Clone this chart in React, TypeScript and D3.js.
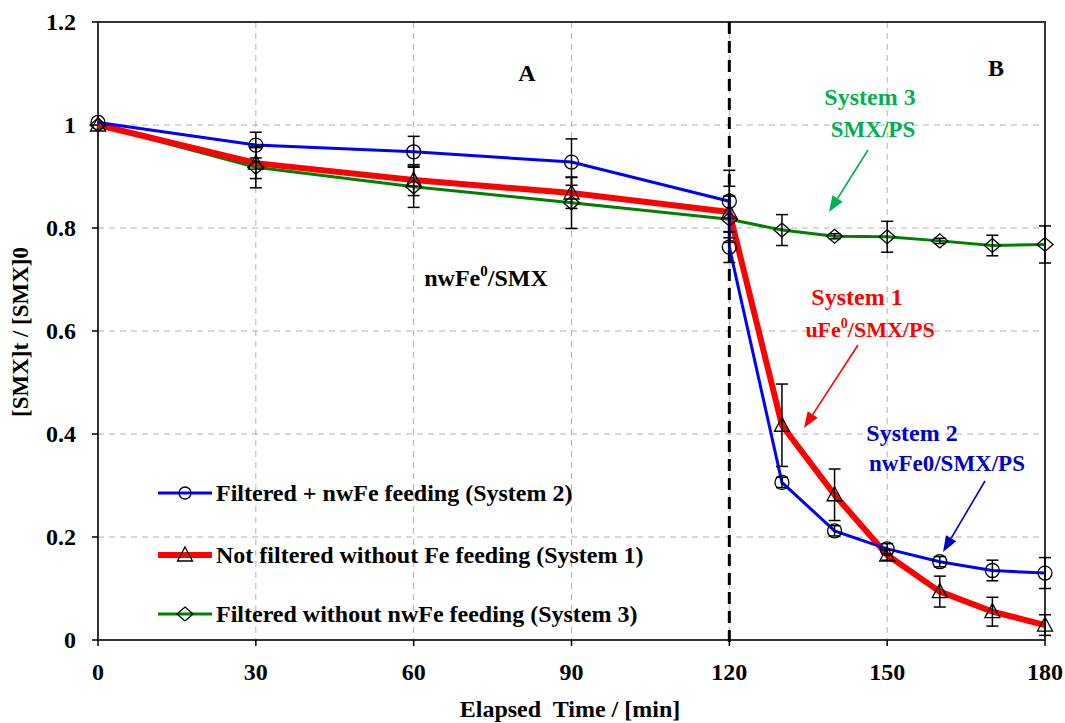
import React from "react";
import * as d3 from "d3";

const times = [0, 30, 60, 90, 120, 120, 130, 140, 150, 160, 170, 180];
const sys2Values = [1.005, 0.961, 0.948, 0.928, 0.852, 0.763, 0.306, 0.212, 0.177, 0.152, 0.135, 0.13];
const sys2Err = [0, 0.025, 0.03, 0.045, 0.06, 0.03, 0.01, 0.01, 0.01, 0.01, 0.02, 0.03];
const times1 = [0, 30, 60, 90, 120, 130, 140, 150, 160, 170, 180];
const sys1Values = [1.0, 0.926, 0.893, 0.868, 0.831, 0.417, 0.282, 0.165, 0.094, 0.055, 0.029];
const sys1Err = [0, 0.03, 0.03, 0.03, 0.05, 0.08, 0.05, 0.01, 0.03, 0.028, 0.02];
const sys3Values = [1.0, 0.918, 0.88, 0.849, 0.817, 0.796, 0.784, 0.783, 0.775, 0.766, 0.768];
const sys3Err = [0, 0.04, 0.04, 0.05, 0.045, 0.03, 0.005, 0.03, 0.005, 0.02, 0.036];
const xTicks = [0, 30, 60, 90, 120, 150, 180];
const yTicks = [0, 0.2, 0.4, 0.6, 0.8, 1.0, 1.2];
const legendLabels = [
  "Filtered + nwFe feeding (System 2)",
  "Not filtered without Fe feeding (System 1)",
  "Filtered without nwFe feeding (System 3)",
];

const W = 1065, H = 723;
const L = 98, R = 1045, T = 22, B = 640;
const FONT = "Liberation Serif";

function Txt(props: any) {
  return <text fontFamily={FONT} fontWeight="bold" {...props} />;
}

export default function App() {
  const x = d3.scaleLinear().domain([0, 180]).range([L, R]);
  const y = d3.scaleLinear().domain([0, 1.2]).range([B, T]);
  const line = d3.line<[number, number]>().x(d => x(d[0])).y(d => y(d[1]));

  const s2 = times.map((t, i) => [t, sys2Values[i]] as [number, number]);
  const s1 = times1.map((t, i) => [t, sys1Values[i]] as [number, number]);
  const s3 = times1.map((t, i) => [t, sys3Values[i]] as [number, number]);

  const errBars = (ts: number[], vs: number[], es: number[], key: string) =>
    ts.map((t, i) => es[i] > 0 ? (
      <g key={key + i} stroke="#000" strokeWidth={1.5}>
        <line x1={x(t)} x2={x(t)} y1={y(vs[i] - es[i])} y2={y(vs[i] + es[i])} />
        <line x1={x(t) - 6} x2={x(t) + 6} y1={y(vs[i] - es[i])} y2={y(vs[i] - es[i])} />
        <line x1={x(t) - 6} x2={x(t) + 6} y1={y(vs[i] + es[i])} y2={y(vs[i] + es[i])} />
      </g>
    ) : null);

  const circle = (cx: number, cy: number, k: string, r = 7) => (
    <circle key={k} cx={cx} cy={cy} r={r} fill="none" stroke="#000" strokeWidth={1.3} />
  );
  const tri = (cx: number, cy: number, k: string) => (
    <path key={k} d={`M${cx},${cy - 8} L${cx + 7.5},${cy + 6} L${cx - 7.5},${cy + 6} Z`} fill="none" stroke="#000" strokeWidth={1.3} />
  );
  const dia = (cx: number, cy: number, k: string) => (
    <path key={k} d={`M${cx},${cy - 7} L${cx + 8},${cy} L${cx},${cy + 7} L${cx - 8},${cy} Z`} fill="none" stroke="#000" strokeWidth={1.3} />
  );

  const arrow = (x1: number, y1: number, x2: number, y2: number, color: string, k: string) => {
    const ang = Math.atan2(y2 - y1, x2 - x1);
    const len = 16, half = 6;
    const bx = x2 - len * Math.cos(ang), by = y2 - len * Math.sin(ang);
    const px = -Math.sin(ang) * half, py = Math.cos(ang) * half;
    return (
      <g key={k}>
        <line x1={x1} y1={y1} x2={bx} y2={by} stroke={color} strokeWidth={1.6} />
        <path d={`M${x2},${y2} L${bx + px},${by + py} L${bx - px},${by - py} Z`} fill={color} />
      </g>
    );
  };

  const legendColors = ["#0000FF", "#FF0000", "#008000"];
  const legendWidths = [3, 6, 3];
  const legendY = [493, 555, 614];
  const legendMarkers = [
    (cx: number, cy: number, k: string) => circle(cx, cy, k, 6),
    tri,
    dia,
  ];

  return (
    <div style={{ position: "absolute", left: 0, top: 0 }}>
      <svg width={W} height={H} style={{ display: "block", background: "#fff" }}>
        <rect width={W} height={H} fill="#fff" />
        {/* grid */}
        {xTicks.filter(t => t > 0 && t < 180).map(t => (
          <line key={"gx" + t} x1={x(t)} x2={x(t)} y1={T} y2={B} stroke="#b0b0b0" strokeDasharray="6,5" strokeWidth={1} />
        ))}
        {yTicks.filter(t => t > 0 && t < 1.2).map(t => (
          <line key={"gy" + t} x1={L} x2={R} y1={y(t)} y2={y(t)} stroke="#b0b0b0" strokeDasharray="6,5" strokeWidth={1} />
        ))}
        {/* frame */}
        <rect x={L} y={T} width={R - L} height={B - T} fill="none" stroke="#333" strokeWidth={2} />
        {/* ticks */}
        {xTicks.map(t => (
          <g key={"xt" + t}>
            <line x1={x(t)} x2={x(t)} y1={B} y2={B + 6} stroke="#000" strokeWidth={1.5} />
            <Txt x={x(t)} y={B + 40} textAnchor="middle" fontSize={24}>{t}</Txt>
          </g>
        ))}
        {yTicks.map(t => (
          <g key={"yt" + t}>
            <line x1={L - 6} x2={L} y1={y(t)} y2={y(t)} stroke="#000" strokeWidth={1.5} />
            <Txt x={L - 22} y={y(t) + 8} textAnchor="end" fontSize={24}>{t === 0 ? "0" : t === 1 ? "1" : t.toFixed(1)}</Txt>
          </g>
        ))}
        {/* dashed vertical */}
        <line x1={x(120)} x2={x(120)} y1={T} y2={B + 4} stroke="#000" strokeWidth={3} strokeDasharray="12,7" />
        {/* lines */}
        <path d={line(s3) || ""} fill="none" stroke="#008000" strokeWidth={3} />
        <path d={line(s1) || ""} fill="none" stroke="#FF0000" strokeWidth={6} />
        <path d={line(s2) || ""} fill="none" stroke="#0000FF" strokeWidth={3} />
        {/* error bars */}
        {errBars(times, sys2Values, sys2Err, "e2")}
        {errBars(times1, sys1Values, sys1Err, "e1")}
        {errBars(times1, sys3Values, sys3Err, "e3")}
        {/* markers */}
        {s2.map((d, i) => circle(x(d[0]), y(d[1]), "m2" + i))}
        {s1.map((d, i) => tri(x(d[0]), y(d[1]), "m1" + i))}
        {s3.map((d, i) => dia(x(d[0]), y(d[1]), "m3" + i))}
        {/* annotations */}
        <Txt x={527} y={81} textAnchor="middle" fontSize={24}>A</Txt>
        <Txt x={996} y={76} textAnchor="middle" fontSize={24}>B</Txt>
        <Txt x={486} y={286} textAnchor="middle" fontSize={24}>nwFe<tspan fontSize={15} dy={-10}>0</tspan><tspan dy={10}>/SMX</tspan></Txt>
        <Txt x={870} y={105} textAnchor="middle" fontSize={24} fill="#00B050">System 3</Txt>
        <Txt x={873} y={137} textAnchor="middle" fontSize={23} fill="#00B050">SMX/PS</Txt>
        {arrow(868, 150, 829, 212, "#00B050", "a3")}
        <Txt x={857} y={305} textAnchor="middle" fontSize={24} fill="#FF0000">System 1</Txt>
        <Txt x={870} y={337} textAnchor="middle" fontSize={22} fill="#FF0000">uFe<tspan fontSize={14} dy={-9}>0</tspan><tspan dy={9}>/SMX/PS</tspan></Txt>
        {arrow(858, 345, 804, 428, "#FF0000", "a1")}
        <Txt x={912} y={441} textAnchor="middle" fontSize={24} fill="#0000CC">System 2</Txt>
        <Txt x={947} y={471} textAnchor="middle" fontSize={23} fill="#0000CC">nwFe0/SMX/PS</Txt>
        {arrow(985, 481, 943, 552, "#0000CC", "a2")}
        {/* legend */}
        {legendLabels.map((lab, i) => (
          <g key={"lg" + i}>
            <line x1={158} x2={212} y1={legendY[i]} y2={legendY[i]} stroke={legendColors[i]} strokeWidth={legendWidths[i]} />
            {legendMarkers[i](185, legendY[i], "lm" + i)}
            <Txt x={216} y={legendY[i] + 8} fontSize={24}>{lab}</Txt>
          </g>
        ))}
        {/* axis titles */}
        <Txt x={570} y={717} textAnchor="middle" fontSize={24} style={{ whiteSpace: "pre" }}>Elapsed  Time / [min]</Txt>
        <Txt transform="translate(28,332) rotate(-90)" textAnchor="middle" fontSize={23}>[SMX]t / [SMX]0</Txt>
      </svg>
    </div>
  );
}
